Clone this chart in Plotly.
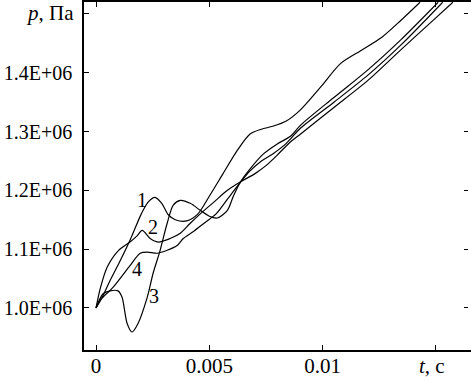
import numpy as np
import plotly.graph_objects as go

# time in ms, pressure in units of 1E+06 Pa
t1 = [0.0, 0.3, 0.6, 1.0, 1.5, 2.0, 2.3, 2.6, 2.9, 3.2, 3.5, 4.0, 4.5, 5.0, 5.6, 6.2, 6.8, 7.3, 7.8, 8.4, 9.0, 9.9, 10.8, 11.7, 12.6, 13.45, 14.3]
p1 = [1.000, 1.020, 1.045, 1.075, 1.115, 1.160, 1.180, 1.188, 1.178, 1.158, 1.150, 1.148, 1.160, 1.190, 1.228, 1.266, 1.296, 1.304, 1.309, 1.318, 1.336, 1.375, 1.416, 1.438, 1.460, 1.489, 1.520]

t2 = [0.0, 0.2, 0.5, 1.0, 1.5, 1.8, 2.04, 2.39, 2.74, 3.27, 3.72, 4.16, 4.6, 5.2, 5.8, 6.4, 7.0, 7.5, 8.0, 8.6, 9.03, 10.5, 12.0, 13.45, 14.9, 15.75]
p2 = [1.000, 1.035, 1.070, 1.098, 1.112, 1.122, 1.132, 1.118, 1.112, 1.118, 1.127, 1.144, 1.160, 1.180, 1.200, 1.215, 1.228, 1.242, 1.260, 1.283, 1.296, 1.341, 1.387, 1.439, 1.490, 1.520]

t3 = [0.0, 0.31, 0.62, 0.97, 1.15, 1.37, 1.59, 1.86, 2.26, 2.52, 2.83, 3.14, 3.41, 3.72, 4.16, 4.6, 5.0, 5.35, 5.8, 6.06, 6.37, 6.81, 7.39, 8.0, 8.58, 9.03, 10.5, 12.0, 13.45, 15.1]
p3 = [1.000, 1.024, 1.029, 1.029, 1.018, 0.974, 0.959, 0.974, 1.018, 1.059, 1.098, 1.144, 1.175, 1.183, 1.178, 1.166, 1.156, 1.153, 1.166, 1.190, 1.214, 1.237, 1.262, 1.279, 1.292, 1.311, 1.358, 1.405, 1.456, 1.520]

t4 = [0.0, 0.18, 0.75, 1.5, 1.95, 2.26, 2.7, 3.14, 3.58, 3.85, 4.3, 4.8, 5.3, 5.8, 6.3, 6.8, 7.3, 7.8, 8.4, 9.03, 10.5, 12.0, 13.45, 15.3]
p4 = [1.000, 1.013, 1.035, 1.072, 1.093, 1.095, 1.093, 1.098, 1.106, 1.118, 1.130, 1.145, 1.160, 1.185, 1.210, 1.233, 1.250, 1.262, 1.280, 1.306, 1.350, 1.396, 1.447, 1.520]

curves = [(t1, p1), (t2, p2), (t3, p3), (t4, p4)]

x_ticks = [0, 0.005, 0.01, 0.015]
x_ticktext = ["0", "0.005", "0.01", ""]
y_ticks = [1.0e6, 1.1e6, 1.2e6, 1.3e6, 1.4e6, 1.5e6]
y_ticktext = ["1.0E+06", "1.1E+06", "1.2E+06", "1.3E+06", "1.4E+06", ""]

curve_labels = ["1", "2", "3", "4"]
label_t = [2.04, 2.52, 2.57, 1.81]
label_p = [1.183, 1.137, 1.020, 1.067]

x_range = [-0.00053, 0.01655]
y_range = [0.9284e6, 1.5204e6]

FONT = "Liberation Serif"

fig = go.Figure()
for t, p in curves:
    fig.add_trace(go.Scatter(
        x=np.array(t) / 1000.0, y=np.array(p) * 1e6,
        mode="lines", line=dict(color="black", width=1.2, shape="spline", smoothing=0.8),
        showlegend=False, hoverinfo="skip"))

fig.add_trace(go.Scatter(x=[x_range[0]], y=[y_range[0]], yaxis="y2",
                         mode="markers", marker=dict(opacity=0), showlegend=False, hoverinfo="skip"))

for lab, lt, lp in zip(curve_labels, label_t, label_p):
    fig.add_annotation(x=lt / 1000.0, y=lp * 1e6, text=lab, showarrow=False,
                       font=dict(family=FONT, size=20, color="black"))

fig.add_annotation(xref="paper", yref="paper", x=-0.02, y=0.968, xanchor="right", yanchor="middle",
                   text="<i>p</i>, Па", showarrow=False, font=dict(family=FONT, size=21, color="black"))
fig.add_annotation(xref="paper", yref="paper", x=0.899, y=-0.046, xanchor="center", yanchor="middle",
                   text="<i>t</i>, c", showarrow=False, font=dict(family=FONT, size=21, color="black"))

fig.update_layout(
    width=471, height=380,
    margin=dict(l=84, r=0, t=2, b=30),
    paper_bgcolor="white", plot_bgcolor="white",
    font=dict(family=FONT, size=20, color="black"),
    xaxis=dict(range=x_range, tickvals=x_ticks, ticktext=x_ticktext,
               showline=True, linecolor="black", linewidth=1.5, mirror="ticks",
               ticks="inside", ticklen=5, tickcolor="black", tickwidth=1,
               showgrid=False, zeroline=False, ticklabelstandoff=-4, automargin=False,
               tickfont=dict(family=FONT, size=21, color="black")),
    yaxis=dict(range=y_range, tickvals=y_ticks, ticktext=y_ticktext,
               showline=True, linecolor="black", linewidth=1.5,
               ticks="inside", ticklen=5, tickcolor="black", tickwidth=1,
               showgrid=False, zeroline=False, ticklabelstandoff=6, automargin=False,
               tickfont=dict(family=FONT, size=20, color="black")),
    yaxis2=dict(range=y_range, tickvals=y_ticks, overlaying="y", side="right",
                anchor="free", position=0.992, showline=False,
                ticks="inside", ticklen=4, tickcolor="black", tickwidth=1,
                showticklabels=False, showgrid=False, zeroline=False, automargin=False),
)

fig.write_html("out.html", config={"displayModeBar": False},
               post_script="document.body.style.margin='0';document.body.style.overflow='hidden';")
